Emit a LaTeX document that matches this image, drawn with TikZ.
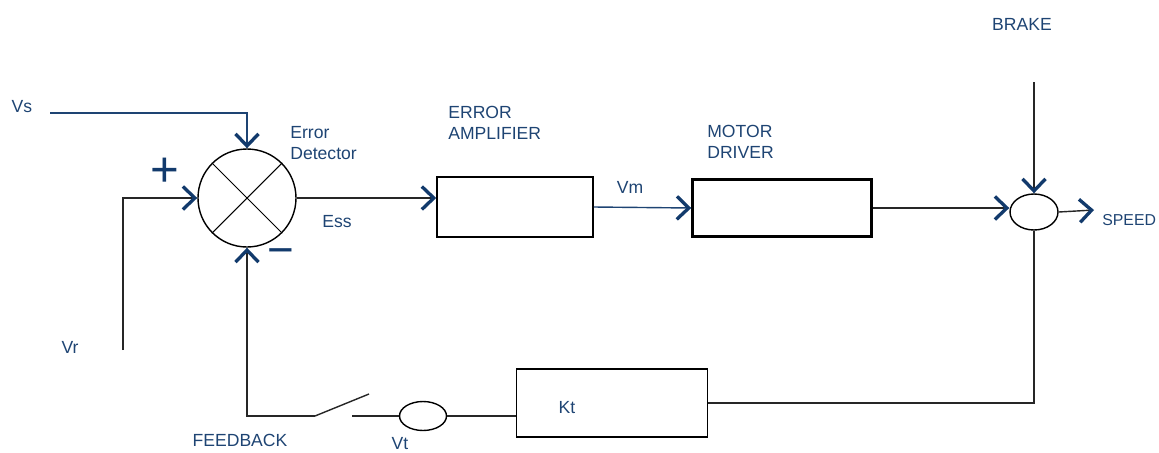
\documentclass[tikz,border=0pt]{standalone}
\usepackage{fontspec}
\setmainfont{Liberation Sans}
\usetikzlibrary{arrows.meta,positioning,calc,shapes.geometric}
\definecolor{txtblue}{RGB}{30,68,115}
\definecolor{tipblue}{RGB}{18,58,108}
\begin{document}
\begin{tikzpicture}[x=0.2mm,y=-0.2mm,font=\fontsize{10}{12}\selectfont,
 >={Straight Barb[length=2.4mm,width=4.6mm,line width=1.9pt,color=tipblue]},
 wire/.style={line width=0.8pt,black!85},
 bluewire/.style={line width=0.8pt,txtblue},
 blk/.style={draw,rectangle,line width=0.9pt,inner sep=0pt},
 junc/.style={draw,ellipse,line width=0.8pt,inner sep=0pt},
 lab/.style={text=txtblue,inner sep=0pt},
 sign/.style={text=tipblue,inner sep=0pt}]
\useasboundingbox (0,0) rectangle (1159,452);
\node[junc,circle,minimum size=1.96cm] (det) at (247,198) {};
\draw[line width=0.6pt] (det.north west) -- (det.south east) (det.north east) -- (det.south west);
\node[blk,minimum width=3.12cm,minimum height=1.2cm] (amp) at (515,207) {};
\node[blk,line width=1.4pt,minimum width=3.58cm,minimum height=1.14cm] (drv) at (782,208) {};
\node[junc,minimum width=0.96cm,minimum height=0.72cm] (spd) at (1034,212) {};
\node[blk,line width=1.1pt,minimum width=3.82cm,minimum height=1.36cm] (kt) at (612,403) {};
\node[junc,minimum width=0.94cm,minimum height=0.58cm] (vt) at (423,416) {};
\coordinate (vs) at (50,113);
\coordinate (vr) at (123,350);
\coordinate (brk) at (1034,82);
\coordinate (out) at (1094,210);
\coordinate (sw1) at (315,416);
\coordinate (sw2) at (352,416);
\coordinate (blade) at (369,394);
\node[lab] (vslab) at (22,107) {Vs};
\node[lab,align=left,anchor=west] (edlab) at (290,143) {Error\\Detector};
\node[sign,font=\fontsize{28}{28}\selectfont] (plus) at (165,172) {+};
\node[sign,font=\fontsize{26}{26}\selectfont] (minus) at (281,257) {−};
\node[lab] (esslab) at (337,222) {Ess};
\node[lab,align=left,anchor=west] (amplab) at (448,123) {ERROR\\AMPLIFIER};
\node[lab] (vmlab) at (630,187) {Vm};
\node[lab,align=left,anchor=west] (drvlab) at (707,142) {MOTOR\\DRIVER};
\node[lab] (brklab) at (1022,24) {BRAKE};
\node[lab,anchor=west,font=\fontsize{9}{11}\selectfont] (spdlab) at (1102,220) {SPEED};
\node[lab] (vrlab) at (70,347) {Vr};
\node[lab] (fblab) at (240,440) {FEEDBACK};
\node[lab] (vtlab) at (400,444) {Vt};
\node[lab] (ktlab) at (567,408) {Kt};
\draw[bluewire,->] (vs) -| (det.north);
\draw[wire,line width=1.3pt,->] (vr) |- (det.west);
\draw[wire,->] (det.east) -- (det.east -| amp.west);
\draw[bluewire,->] (amp.east) -- (drv.west);
\draw[wire,->] (drv.east) -- (drv.east -| spd.west);
\draw[wire,->] (brk) -- (spd.north);
\draw[wire,->] (spd.east) -- (out);
\draw[wire] (spd.south) |- (kt.east);
\draw[wire] (vt.east) -- (vt.east -| kt.west);
\draw[wire] (vt.west) -- (sw2);
\draw[wire] (sw1) -- (blade);
\draw[wire,->] (sw1) -| (det.south);
\end{tikzpicture}
\end{document}
